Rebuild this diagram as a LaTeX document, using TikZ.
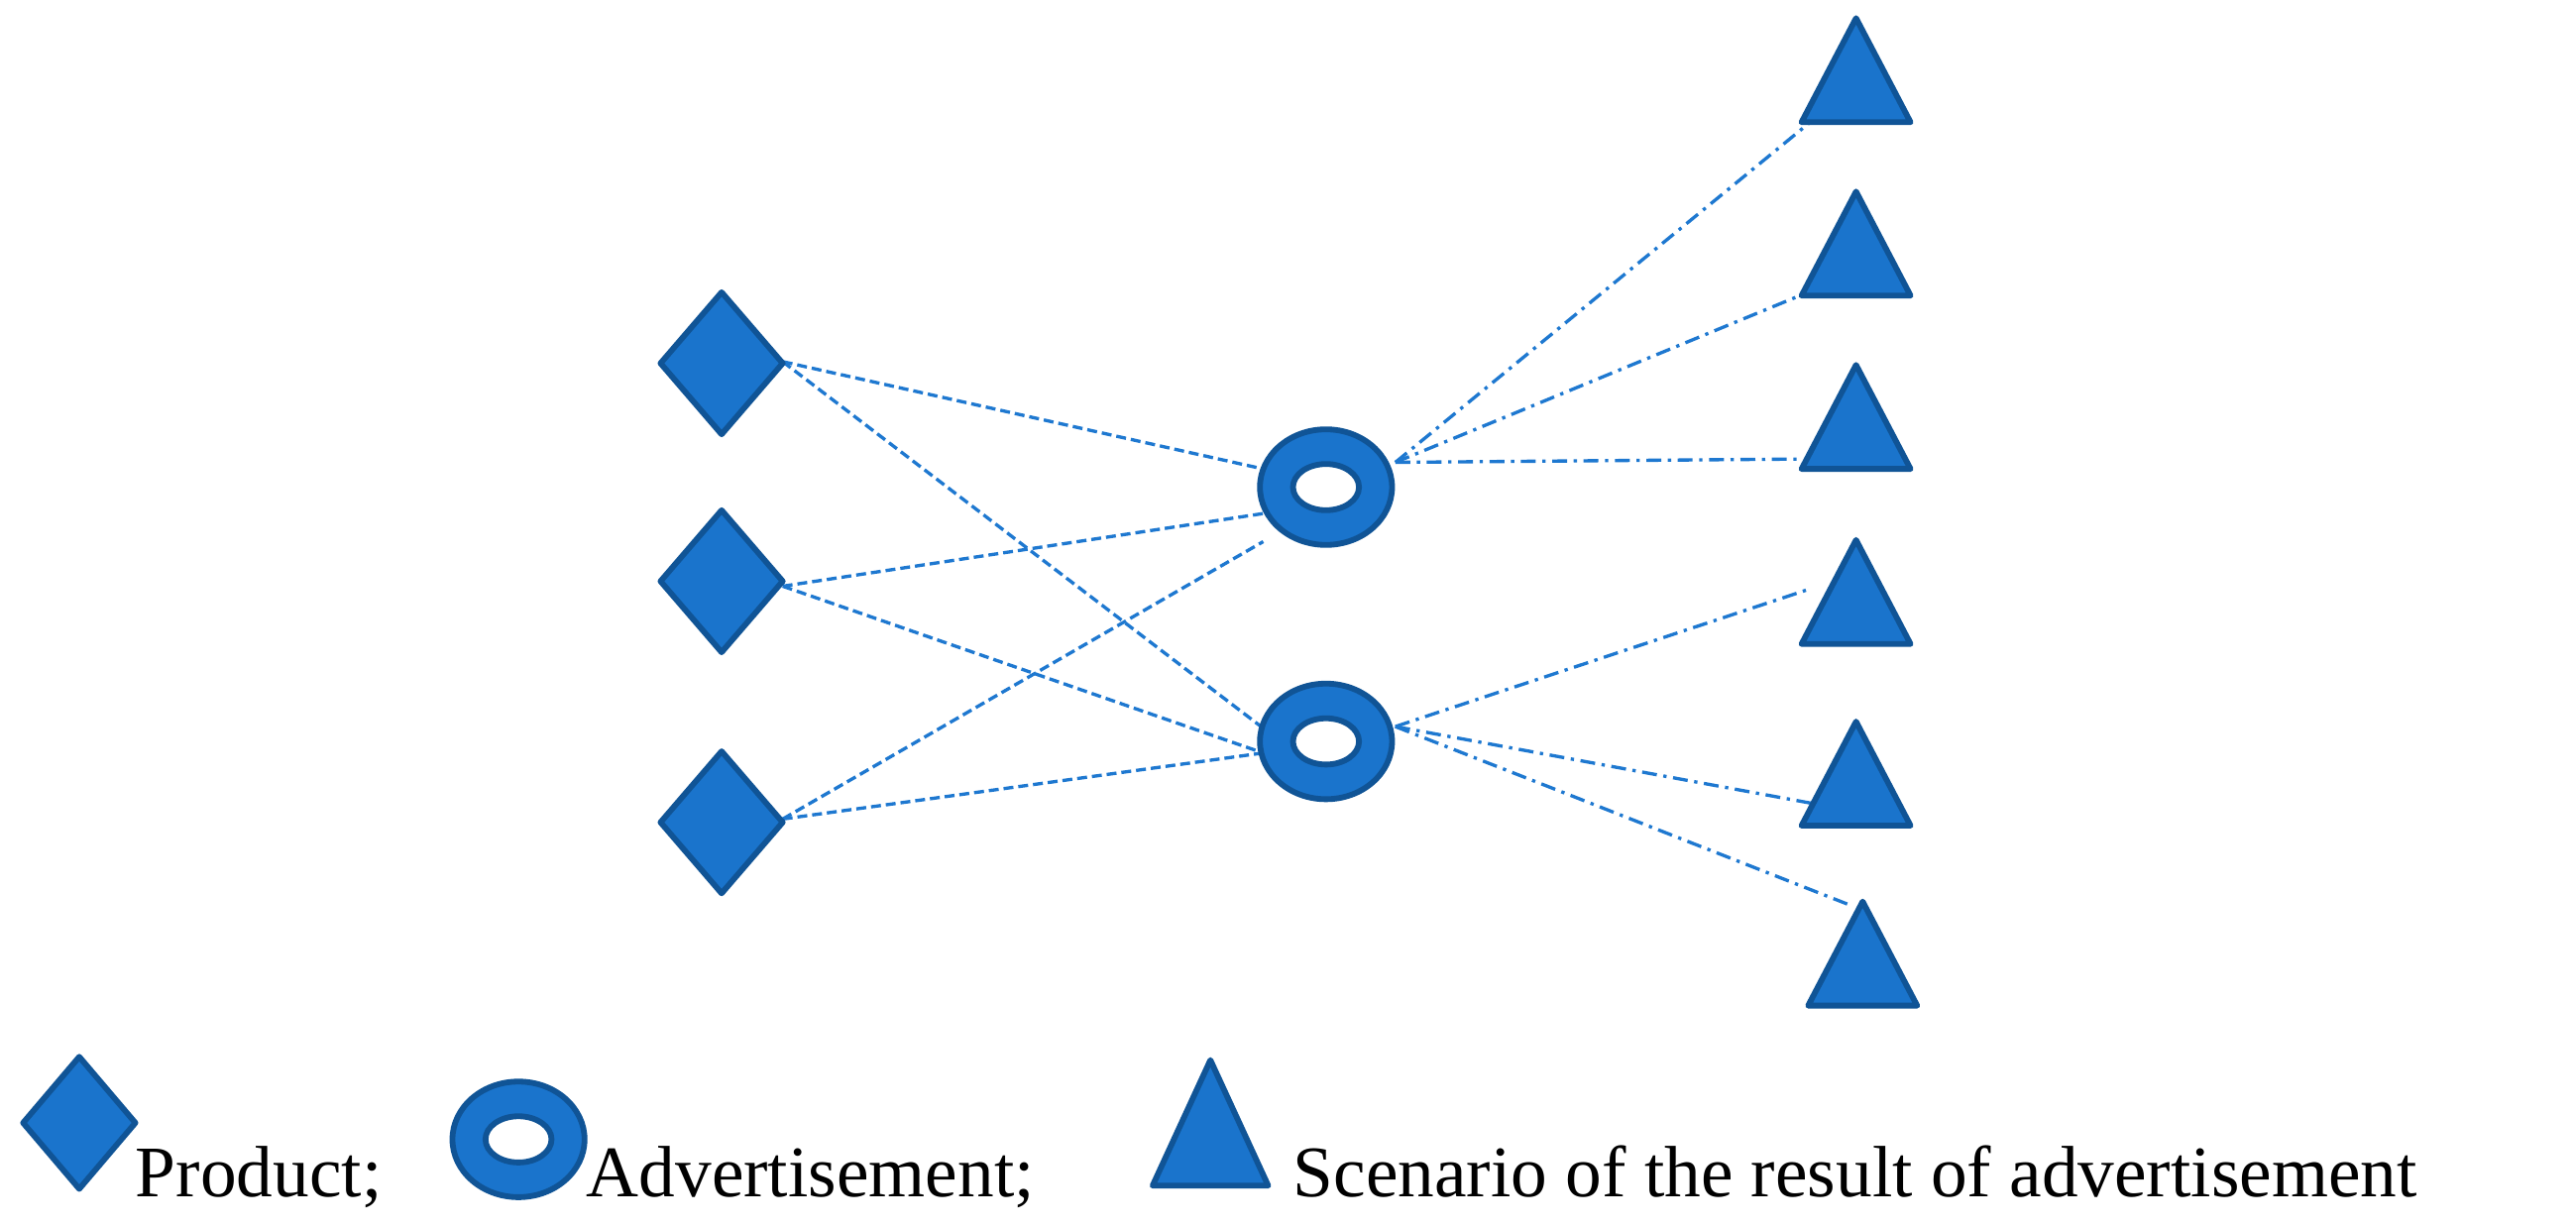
\documentclass[tikz,border=0pt]{standalone}
\usepackage{fontspec}
\setmainfont{Liberation Serif}
\usetikzlibrary{shapes.geometric}
\definecolor{fillb}{RGB}{26,116,204}
\definecolor{edgeb}{RGB}{16,84,150}
\definecolor{lineb}{RGB}{30,120,208}
\tikzset{
 shp/.style={fill=fillb,draw=edgeb,line width=3.5pt,line join=round},
 dsh/.style={draw=lineb,line width=2pt,dash pattern=on 6pt off 3pt},
 dd/.style={draw=lineb,line width=2pt,dash pattern=on 9pt off 4pt on 2pt off 4pt},
 lab/.style={font=\fontsize{44}{50}\selectfont,anchor=base west,inner sep=0}
}
\newcommand{\mydiam}[3]{\draw[shp] (#1,#2-43) -- (#1+37,#2) -- (#1,#2+43) -- (#1-37,#2) -- cycle; \coordinate (#3) at (#1,#2);}
\newcommand{\myring}[3]{\draw[shp] (#1,#2) ellipse [x radius=40,y radius=35]; \draw[shp,fill=white] (#1,#2) ellipse [x radius=20,y radius=14]; \coordinate (#3) at (#1,#2);}
\newcommand{\mytri}[3]{\draw[shp] (#1,#2) -- (#1+33,#2+63) -- (#1-33,#2+63) -- cycle; \coordinate (#3) at (#1,#2+32);}
\begin{document}
\begin{tikzpicture}[x=1pt,y=-1pt]
\useasboundingbox (0,0) rectangle (1560,742.5);
\coordinate (d1e) at (474,219); \coordinate (d2e) at (474,355); \coordinate (d3e) at (474,496);
\coordinate (r1a) at (765,284); \coordinate (r1b) at (765,311); \coordinate (r1c) at (765,328);
\coordinate (r2a) at (765,441); \coordinate (r2b) at (765,456);
\coordinate (r1o) at (845,280); \coordinate (r2o) at (845,440);
\coordinate (t1) at (1095,75); \coordinate (t2) at (1090,179); \coordinate (t3) at (1090,278);
\coordinate (t4) at (1095,357); \coordinate (t5) at (1100,487); \coordinate (t6) at (1120,548);
\draw[dsh] (d1e) -- (r1a); \draw[dsh] (d1e) -- (r2a);
\draw[dsh] (d2e) -- (r1b); \draw[dsh] (d2e) -- (r2b);
\draw[dsh] (d3e) -- (r1c); \draw[dsh] (d3e) -- (r2b);
\draw[dd] (r1o) -- (t1); \draw[dd] (r1o) -- (t2); \draw[dd] (r1o) -- (t3);
\draw[dd] (r2o) -- (t4); \draw[dd] (r2o) -- (t5); \draw[dd] (r2o) -- (t6);
\mydiam{437}{220}{d1} \mydiam{437}{352}{d2} \mydiam{437}{498}{d3}
\myring{803}{295}{r1} \myring{803}{449}{r2}
\mytri{1124}{11}{T1} \mytri{1124}{116}{T2} \mytri{1124}{221}{T3}
\mytri{1124}{327}{T4} \mytri{1124}{437}{T5} \mytri{1128}{546}{T6}
% legend
\draw[shp] (48,640) -- (82,680) -- (48,720) -- (14,680) -- cycle;
\node[lab] (l1) at (82,725) {Product;};
\draw[shp] (314,690) ellipse [x radius=40,y radius=35];
\draw[shp,fill=white] (314,690) ellipse [x radius=20,y radius=14];
\node[lab] (l2) at (355,725) {Advertisement;};
\draw[shp] (733,642) -- (768,718) -- (698,718) -- cycle;
\node[lab] (l3) at (783,725) {Scenario of the result of advertisement};
\end{tikzpicture}
\end{document}
